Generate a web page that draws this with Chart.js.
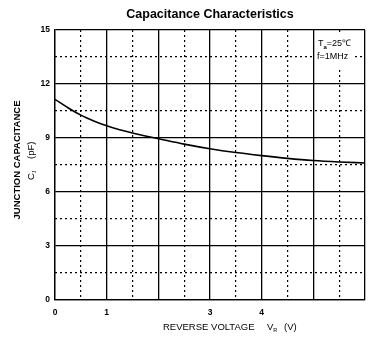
<!DOCTYPE html>
<html>
<head>
<meta charset="utf-8">
<script src="https://cdn.jsdelivr.net/npm/chart.js@4.4.1/dist/chart.umd.min.js"></script>
<style>
  html, body { margin: 0; padding: 0; background: #fff; }
</style>
</head>
<body>
<canvas id="chart" width="390" height="343"></canvas>
<script>
// reverse voltage (V) and junction capacitance (pF)
var voltage     = [0, 0.25, 0.5, 0.75, 1, 1.25, 1.5, 1.75, 2, 2.5, 3, 3.5, 4, 4.5, 5, 5.5, 6];
var capacitance = [11.15, 10.68, 10.27, 9.95, 9.68, 9.46, 9.28, 9.11, 8.96, 8.66, 8.40, 8.19, 8.02, 7.87, 7.75, 7.67, 7.61];

// only these x ticks carry a label in the original
var xTickLabels = ['0', '1', '', '3', '4', '', ''];
var yTickLabels = ['0', '3', '6', '9', '12', '15'];

var FONT = '"Liberation Sans", Arial, sans-serif';

function fixSize(w, h) {
    return function(scale) {
        if (w !== null) scale.width = w;
        if (h !== null) scale.height = h;
    };
}

// every other dotted line sits on a solid one, hide those
function halfOnly(ctx) {
    var v = ctx.tick ? ctx.tick.value : 0;
    return Math.abs(v - Math.round(v)) < 0.01 ? 'rgba(0,0,0,0)' : '#000';
}
function halfOnlyY(ctx) {
    var v = ctx.tick ? ctx.tick.value : 0;
    return Math.abs(v / 3 - Math.round(v / 3)) < 0.01 ? 'rgba(0,0,0,0)' : '#000';
}

function drawSub(ctx, x, y, main, sub, font, subFont) {
    ctx.font = font;
    ctx.fillText(main, x, y);
    var w = ctx.measureText(main).width;
    ctx.font = subFont;
    ctx.fillText(sub, x + w, y + 3);
    return x + w + ctx.measureText(sub).width;
}

var textPlugin = {
    id: 'textPlugin',
    beforeDatasetsDraw: function(chart) {
        var ctx = chart.ctx;
        ctx.save();
        ctx.fillStyle = '#fff';
        ctx.fillRect(315, 35, 37, 32);
        ctx.restore();
    },
    afterDraw: function(chart) {
        var ctx = chart.ctx;
        var area = chart.chartArea;
        ctx.save();
        ctx.fillStyle = '#000';
        ctx.textBaseline = 'middle';

        // title
        ctx.font = 'bold 12.5px ' + FONT;
        ctx.textAlign = 'center';
        ctx.fillText('Capacitance Characteristics', (area.left + area.right) / 2, 15);

        // conditions note, top right
        ctx.textAlign = 'left';
        var x = drawSub(ctx, 318, 44, 'T', 'a', '9px ' + FONT, 'bold 6px ' + FONT);
        ctx.font = '9px ' + FONT;
        ctx.fillText('=25\u2103', x, 44);
        ctx.fillText('f=1MHz', 317, 57);

        // x axis title
        ctx.font = '9.5px ' + FONT;
        ctx.fillText('REVERSE VOLTAGE', 163, 327);
        drawSub(ctx, 267, 327, 'V', 'R', '9.5px ' + FONT, '5.5px ' + FONT);
        ctx.font = '9.5px ' + FONT;
        ctx.fillText('(V)', 284, 327);

        // y axis title, rotated
        ctx.translate(17, 160);
        ctx.rotate(-Math.PI / 2);
        ctx.textAlign = 'center';
        ctx.font = 'bold 9.5px ' + FONT;
        ctx.fillText('JUNCTION CAPACITANCE', 0, 0);
        ctx.textAlign = 'left';
        drawSub(ctx, -20, 14, 'C', 'J', '9.5px ' + FONT, '5.5px ' + FONT);
        ctx.font = '9.5px ' + FONT;
        ctx.fillText('(pF)', 1, 14);
        ctx.restore();
    }
};

var points = voltage.map(function(v, i) { return { x: v, y: capacitance[i] }; });

new Chart(document.getElementById('chart'), {
    type: 'line',
    data: {
        datasets: [{
            data: points,
            borderColor: '#000',
            borderWidth: 1.6,
            pointRadius: 0,
            fill: false,
            cubicInterpolationMode: 'monotone'
        }]
    },
    plugins: [textPlugin],
    options: {
        responsive: false,
        animation: false,
        layout: { padding: { left: 0, right: 25, top: 30, bottom: 0 } },
        plugins: { legend: { display: false }, tooltip: { enabled: false } },
        scales: {
            x: {
                type: 'linear',
                min: 0, max: 6,
                afterFit: fixSize(null, 43),
                ticks: {
                    stepSize: 1,
                    padding: 8,
                    color: '#000',
                    font: { family: FONT, size: 8.5, weight: 'bold' },
                    callback: function(v) { return xTickLabels[Math.round(v)] || ''; }
                },
                grid: { color: '#000', lineWidth: 1.3, drawTicks: false },
                border: { color: '#000', width: 1.3 }
            },
            x2: {
                type: 'linear',
                position: 'bottom',
                min: 0, max: 6,
                afterFit: fixSize(null, 0),
                ticks: { stepSize: 0.5, display: false },
                grid: { color: halfOnly, lineWidth: 1.2, drawTicks: false },
                border: { display: false, dash: [2, 3] }
            },
            y: {
                type: 'linear',
                min: 0, max: 15,
                afterFit: fixSize(55, null),
                ticks: {
                    stepSize: 3,
                    padding: 5,
                    color: '#000',
                    font: { family: FONT, size: 8.5, weight: 'bold' },
                    callback: function(v) { return yTickLabels[Math.round(v / 3)]; }
                },
                grid: { color: '#000', lineWidth: 1.3, drawTicks: false },
                border: { color: '#000', width: 1.3 }
            },
            y2: {
                type: 'linear',
                position: 'left',
                min: 0, max: 15,
                afterFit: fixSize(0, null),
                ticks: { stepSize: 1.5, display: false },
                grid: { color: halfOnlyY, lineWidth: 1.2, drawTicks: false },
                border: { display: false, dash: [2, 3] }
            }
        }
    }
});
</script>
</body>
</html>
